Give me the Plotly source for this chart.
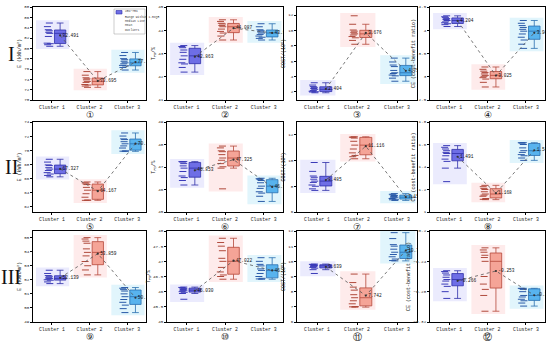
import numpy as np
import plotly.graph_objects as go

clusters = ["Cluster 1", "Cluster 2", "Cluster 3"]

# ---- sample values (one list per cluster) for each of the 12 panels ----
p1 = [[80.4, 80.7, 80.9, 81.0, 82.3, 82.9, 83.1, 83.4, 83.6, 84.2, 84.9],
      [72.45, 72.7, 72.9, 73.0, 73.4, 73.6, 73.9, 74.1, 74.3, 74.8, 75.5],
      [75.8, 76.3, 76.6, 76.7, 77.0, 77.2, 77.5, 77.8, 78.0, 78.6, 79.2]]
p2 = [[42.2, 42.4, 42.55, 42.6, 42.75, 42.9, 43.05, 43.15, 43.25, 43.3, 43.34],
      [43.58, 43.75, 43.88, 43.95, 44.05, 44.15, 44.2, 44.27, 44.3, 44.38, 44.45],
      [43.58, 43.65, 43.7, 43.75, 43.82, 43.88, 43.93, 43.98, 44.02, 44.15, 44.28]]
p3 = [[1.9, 2.0, 2.04, 2.1, 2.2, 2.35, 2.45, 2.6, 2.7, 2.9, 3.2],
      [8.2, 8.7, 9.04, 9.2, 9.4, 9.55, 9.7, 9.9, 10.05, 10.8, 11.9],
      [3.4, 3.8, 4.1, 4.2, 4.4, 4.5, 4.8, 5.3, 5.5, 5.9, 6.4]]
p4 = [[4.08, 4.12, 4.14, 4.16, 4.18, 4.21, 4.23, 4.25, 4.27, 4.29, 4.31],
      [2.78, 2.88, 2.95, 2.98, 3.01, 3.03, 3.06, 3.09, 3.12, 3.16, 3.21],
      [3.61, 3.7, 3.79, 3.85, 3.92, 3.98, 4.02, 4.06, 4.1, 4.15, 4.21]]
p5 = [[66.2, 66.4, 66.6, 66.8, 67.1, 67.3, 67.5, 67.8, 67.9, 68.3, 68.7],
      [62.86, 62.86, 62.9, 63.3, 63.8, 64.3, 64.7, 65.1, 65.2, 65.35, 65.47],
      [69.83, 69.85, 69.9, 70.3, 70.6, 70.9, 71.2, 71.5, 71.6, 72.0, 72.44]]
p6 = [[46.2, 46.4, 46.53, 46.6, 46.8, 46.95, 47.05, 47.15, 47.22, 47.24, 47.24],
      [46.03, 46.95, 47.01, 47.15, 47.3, 47.4, 47.55, 47.68, 47.72, 47.85, 47.93],
      [45.47, 45.7, 45.84, 45.9, 46.05, 46.15, 46.3, 46.4, 46.45, 46.48, 46.5]]
p7 = [[7.68, 7.8, 8.0, 8.1, 8.3, 8.4, 8.55, 8.7, 8.8, 9.16, 9.85],
      [10.14, 10.3, 10.4, 10.6, 10.9, 11.2, 11.5, 11.75, 11.82, 11.82, 11.85],
      [6.9, 6.95, 6.99, 7.05, 7.1, 7.15, 7.2, 7.28, 7.32, 7.38, 7.43]]
p8 = [[1.27, 1.39, 1.45, 1.47, 1.5, 1.52, 1.53, 1.545, 1.56, 1.575, 1.59],
      [1.11, 1.113, 1.12, 1.14, 1.15, 1.16, 1.18, 1.2, 1.21, 1.225, 1.237],
      [1.459, 1.48, 1.5, 1.51, 1.53, 1.545, 1.57, 1.6, 1.612, 1.616, 1.616]]
p9 = [[51.73, 51.85, 51.97, 52.0, 52.05, 52.1, 52.15, 52.25, 52.3, 52.45, 52.68],
      [52.35, 52.7, 53.0, 53.3, 53.7, 53.95, 54.2, 54.6, 54.75, 54.9, 55.0],
      [49.67, 49.95, 50.2, 50.4, 50.6, 50.8, 51.0, 51.2, 51.3, 51.4, 51.45]]
p10 = [[45.75, 45.94, 45.98, 46.0, 46.03, 46.05, 46.07, 46.1, 46.12, 46.14, 46.15],
       [46.41, 46.5, 46.55, 46.65, 46.8, 47.0, 47.1, 47.35, 47.5, 47.62, 47.76],
       [46.41, 46.42, 46.44, 46.5, 46.6, 46.7, 46.75, 46.85, 46.9, 47.0, 47.12]]
p11 = [[9.2, 9.45, 9.55, 9.6, 9.65, 9.7, 9.72, 9.76, 9.78, 9.8, 9.82],
       [6.98, 7.0, 7.02, 7.2, 7.4, 7.6, 7.8, 8.1, 8.3, 8.6, 9.16],
       [10.03, 10.05, 10.15, 10.3, 10.45, 10.6, 10.8, 11.0, 11.1, 11.5, 11.89]]
p12 = [[-0.2889, -0.28, -0.273, -0.27, -0.266, -0.264, -0.261, -0.258, -0.2555, -0.2535, -0.2524],
       [-0.3058, -0.285, -0.277, -0.27, -0.26, -0.24, -0.235, -0.232, -0.228, -0.225, -0.2222],
       [-0.299, -0.295, -0.292, -0.29, -0.287, -0.285, -0.28, -0.277, -0.276, -0.2756, -0.2756]]
panels = [p1, p2, p3, p4, p5, p6, p7, p8, p9, p10, p11, p12]

# y axis ranges / ticks per panel
y_ranges = [[70, 88], [41, 45], [0.96, 13.04], [2.5, 4.5],
            [61.2, 74], [45, 49], [6, 13], [1.0, 1.8],
            [49, 55.47], [45, 48], [6, 12], [-0.32, -0.20]]
y_ticks = [list(range(70, 89, 2)), [41, 42, 43, 44, 45], [2, 4, 6, 8, 10, 12], [2.5, 3.0, 3.5, 4.0, 4.5],
           [62, 64, 66, 68, 70, 72, 74], [45, 46, 47, 48, 49], [6, 8, 10, 12], [1.0, 1.2, 1.4, 1.6, 1.8],
           [49, 50, 51, 52, 53, 54, 55], [45.0, 45.5, 46.0, 46.5, 47.0, 47.5, 48.0], [6, 7, 8, 9, 10, 11, 12],
           [-0.32, -0.28, -0.24, -0.20]]
y_titles = ["E (kWh/m<sup>2</sup>)", "T<sub>PD</sub>/%", "COST/(10<sup>6</sup>)", "CE (cost-benefit ratio)"]
row_labels = ["I", "II", "III"]
circ_labels = ["①", "②", "③", "④", "⑤", "⑥", "⑦", "⑧", "⑨", "⑩", "⑪", "⑫"]

# ---- styling ----
W, H = 550, 346
col_px = [(33, 146), (167, 283), (297, 417), (430, 545)]
row_px = [(7, 100), (122, 212), (231, 322)]
fill_c = ["#6e6ee6", "#f5a497", "#58b3ee"]
line_c = ["#2f2fa8", "#b5473a", "#2a6fb0"]
pt_c = ["#3a3ab8", "#b04a3c", "#2a5aa8"]
bg_c = ["rgba(205,205,250,0.4)", "rgba(252,210,210,0.45)", "rgba(195,235,250,0.5)"]
BOX_OFF = 0.22
MONO = "Liberation Mono"

fig = go.Figure()
layout = dict(width=W, height=H, margin=dict(l=0, r=0, t=0, b=0),
              paper_bgcolor="white", plot_bgcolor="white", showlegend=False,
              boxmode="overlay")
shapes, annotations = [], []

for k, data in enumerate(panels):
    r, c = divmod(k, 4)
    ax = "" if k == 0 else str(k + 1)
    xref, yref = "x" + ax, "y" + ax
    x0p, x1p = col_px[c]
    y0p, y1p = row_px[r]
    layout["xaxis" + ax] = dict(
        domain=[x0p / W, x1p / W], anchor=yref, range=[-0.5, 2.5],
        tickvals=[0, 1, 2], ticktext=clusters, showline=True, mirror=True,
        linecolor="black", linewidth=1, ticks="outside", ticklen=2, tickcolor="black",
        tickfont=dict(family=MONO, size=4.8, color="#222"), showgrid=False, zeroline=False,
        automargin=False)
    layout["yaxis" + ax] = dict(
        domain=[1 - y1p / H, 1 - y0p / H], anchor=xref, range=y_ranges[k],
        tickvals=y_ticks[k], showline=True, mirror=True, linecolor="black", linewidth=1,
        ticks="outside", ticklen=2, tickcolor="black",
        tickfont=dict(family=MONO, size=4.2, color="#222"), showgrid=False, zeroline=False,
        title=dict(text=y_titles[c], font=dict(family=MONO, size=5, color="#222"), standoff=2),
        automargin=False)
    span = y_ranges[k][1] - y_ranges[k][0]
    means = []
    for i, vals in enumerate(data):
        means.append(float(np.mean(vals)))
        shapes.append(dict(type="rect", xref=xref, yref=yref, x0=i - 0.42, x1=i + 0.46,
                           y0=min(vals) - 0.03 * span, y1=max(vals) + 0.03 * span,
                           fillcolor=bg_c[i], line=dict(width=0), layer="below"))
        fig.add_trace(go.Box(
            y=vals, x0=i + BOX_OFF, width=0.3, xaxis=xref, yaxis=yref,
            fillcolor=fill_c[i], line=dict(color=line_c[i], width=0.8),
            whiskerwidth=0.6, boxpoints="all", pointpos=-2.0, jitter=0.35,
            marker=dict(symbol="line-ew", size=5, color=pt_c[i],
                        line=dict(color=pt_c[i], width=1.0)),
            name=clusters[i]))
    fig.add_trace(go.Scatter(
        x=[i + BOX_OFF for i in range(3)], y=means, xaxis=xref, yaxis=yref,
        mode="lines+markers+text", line=dict(color="#555", width=0.8, dash="dot"),
        marker=dict(size=2.2, color="#333"),
        text=[f"{m:.3f}" for m in means], textposition="middle right",
        textfont=dict(family=MONO, size=4.5, color="#111"), hoverinfo="skip"))
    annotations.append(dict(text=circ_labels[k], x=(x0p + x1p) / 2 / W,
                            y=1 - (y1p + 15) / H, xref="paper", yref="paper",
                            showarrow=False, font=dict(family="DejaVu Sans", size=9, color="#111"),
                            xanchor="center", yanchor="middle"))

for r, lab in enumerate(row_labels):
    annotations.append(dict(text=lab, x=11 / W, y=1 - (row_px[r][0] + row_px[r][1]) / 2 / H,
                            xref="paper", yref="paper", showarrow=False,
                            font=dict(family="Liberation Serif", size=20, color="#111"),
                            xanchor="center", yanchor="middle"))

# tiny legend in panel 1
shapes.append(dict(type="rect", xref="paper", yref="paper", x0=114 / W, x1=145 / W,
                   y0=1 - 34 / H, y1=1 - 9 / H, line=dict(color="#999", width=0.5),
                   fillcolor="white"))
shapes.append(dict(type="rect", xref="paper", yref="paper", x0=116 / W, x1=122 / W,
                   y0=1 - 14 / H, y1=1 - 10.5 / H, line=dict(color=line_c[0], width=0.6),
                   fillcolor=fill_c[0]))
leg_lines = ["25%~75%", "Range within 1.5IQR", "Median Line", "Mean", "Outliers"]
for j, t in enumerate(leg_lines):
    annotations.append(dict(text=t, x=123 / W, y=1 - (12 + j * 4.5) / H, xref="paper",
                            yref="paper", showarrow=False, xanchor="left", yanchor="middle",
                            font=dict(family=MONO, size=3, color="#333")))

layout["shapes"] = shapes
layout["annotations"] = annotations
fig.update_layout(**layout)
fig.write_html("out.html", config={"displayModeBar": False},
               post_script="document.body.style.margin='0';document.body.style.padding='0';")
